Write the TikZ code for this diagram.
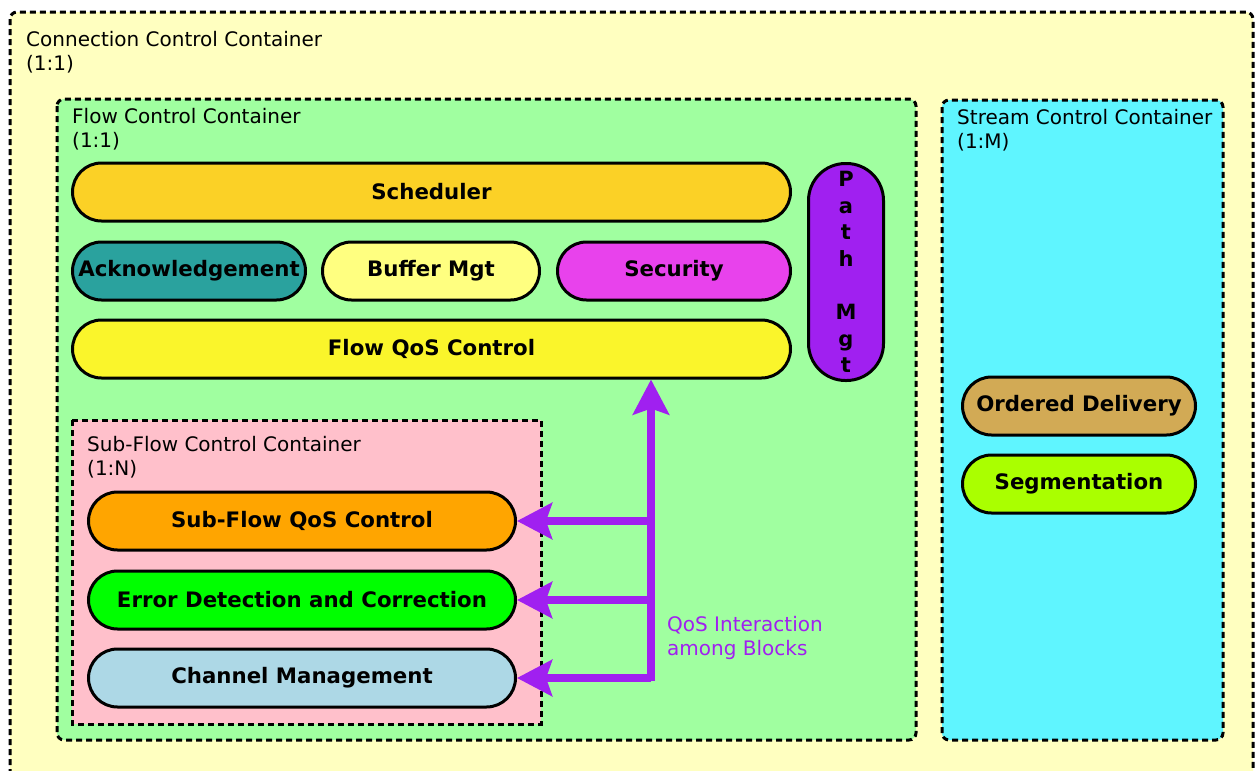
\documentclass[tikz,border=0pt]{standalone}
\usepackage{fontspec}
\setmainfont{DejaVu Sans}
\usetikzlibrary{arrows.meta}

\definecolor{outerfill}{HTML}{FFFFC0}
\definecolor{flowfill}{HTML}{A0FFA0}
\definecolor{streamfill}{HTML}{5FF5FF}
\definecolor{subfill}{HTML}{FFC0CB}
\definecolor{schedfill}{HTML}{FBD126}
\definecolor{ackfill}{HTML}{2AA29E}
\definecolor{bufffill}{HTML}{FFFF80}
\definecolor{secfill}{HTML}{E842EC}
\definecolor{fqosfill}{HTML}{FAF52B}
\definecolor{qospurple}{HTML}{A020F0}
\definecolor{orderfill}{HTML}{D2AA55}
\definecolor{segfill}{HTML}{AAFF00}
\definecolor{sqosfill}{HTML}{FFA500}
\definecolor{errfill}{HTML}{00FF00}
\definecolor{chanfill}{HTML}{ADD8E6}

\tikzset{
  container/.style={draw=black, line width=3pt, dash pattern=on 6pt off 4pt},
  clabel/.style={anchor=north west, inner sep=0pt, align=left,
    font=\fontsize{20}{24.5}\selectfont},
  pill/.style={draw=black, line width=3pt, rounded corners=29pt,
    minimum height=58pt, inner sep=0pt,
    font=\fontsize{21.3}{26}\selectfont\bfseries},
  qosline/.style={draw=qospurple, line width=8pt},
  qosarrow/.style={qosline, -{Stealth[length=35pt, width=36pt, inset=6pt]}}
}

\begin{document}
\begin{tikzpicture}[x=1pt, y=-1pt]
  \useasboundingbox (0,0) rectangle (1256,771);
  \clip (0,0) rectangle (1256,771);
  \fill[white] (0,0) rectangle (1256,771);

  % containers
  \draw[container, fill=outerfill, rounded corners=7pt] (10,12) rectangle (1253,800);
  \draw[container, fill=flowfill, rounded corners=7pt] (57,99) rectangle (916,740);
  \draw[container, fill=streamfill, rounded corners=7pt] (942,100) rectangle (1223,740);
  \draw[container, fill=subfill] (72,420) rectangle (541,724);

  \node[clabel] (connlabel) at (26,31) {Connection Control Container\\(1:1)};
  \node[clabel] (flowlabel) at (72,108) {Flow Control Container\\(1:1)};
  \node[clabel] (streamlabel) at (957,109) {Stream Control Container\\(1:M)};
  \node[clabel] (sublabel) at (87,436) {Sub-Flow Control Container\\(1:N)};

  % flow control blocks
  \node[pill, fill=schedfill, minimum width=718pt] (sched) at (431.5,192) {Scheduler};
  \node[pill, fill=ackfill, minimum width=233pt] (ack) at (189,271) {Acknowledgement};
  \node[pill, fill=bufffill, minimum width=217pt] (buff) at (431,271) {Buffer Mgt};
  \node[pill, fill=secfill, minimum width=233pt] (sec) at (674,271) {Security};
  \node[pill, fill=fqosfill, minimum width=718pt] (fqos) at (431.5,349) {Flow QoS Control};
  \node[pill, fill=qospurple, minimum width=75pt, minimum height=217pt,
        rounded corners=37pt, align=center,
        font=\fontsize{21}{26.6}\selectfont\bfseries] (path) at (846,272)
        {P\\a\\t\\h\\ \\M\\g\\t};

  % stream control blocks
  \node[pill, fill=orderfill, minimum width=233pt] (order) at (1079,406) {Ordered Delivery};
  \node[pill, fill=segfill, minimum width=233pt] (seg) at (1079,484) {Segmentation};

  % sub-flow control blocks
  \node[pill, fill=sqosfill, minimum width=427pt] (sqos) at (302,521) {Sub-Flow QoS Control};
  \node[pill, fill=errfill, minimum width=427pt] (err) at (302,600) {Error Detection and Correction};
  \node[pill, fill=chanfill, minimum width=427pt] (chan) at (302,678) {Channel Management};

  % QoS interaction bus
  \coordinate (busbot) at (651,681);
  \coordinate (bus1) at (651,521);
  \coordinate (bus2) at (651,600);
  \coordinate (bus3) at (651,678);
  \draw[qosarrow] (busbot) -- (busbot |- fqos.south);
  \draw[qosarrow] (bus1) -- (sqos.east);
  \draw[qosarrow] (bus2) -- (err.east);
  \draw[qosarrow] (bus3) -- (chan.east);

  \node[clabel, text=qospurple] (qoslabel) at (667,616) {QoS Interaction\\among Blocks};
\end{tikzpicture}
\end{document}
